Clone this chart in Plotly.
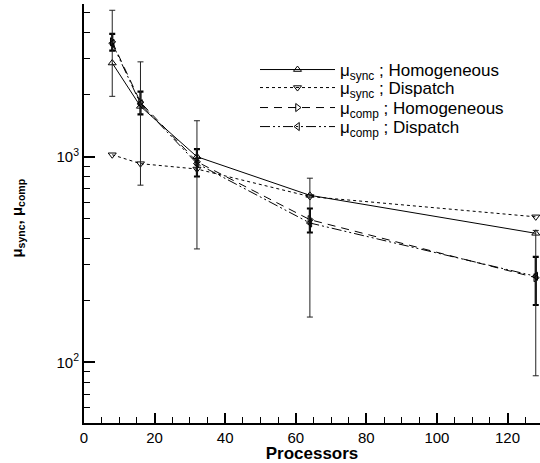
import plotly.graph_objects as go

processors = [8, 16, 32, 64, 128]
sync_homogeneous = [2855, 1757, 1000, 649, 424]
sync_dispatch = [1022, 925, 871, 640, 510]
comp_homogeneous = [3620, 1840, 945, 494, 258]
comp_homogeneous_err = [340, 233, 144, 66, 68]
comp_dispatch = [3560, 1810, 926, 476, 262]
comp_dispatch_err = [1594, 1083, 570, 310, 176]

x_ticks = [0, 20, 40, 60, 80, 100, 120]
y_ticks = [100, 1000]
y_ticktext = ["10<sup>2</sup>", "10<sup>3</sup>"]
y_minor = [60, 70, 80, 90, 200, 300, 400, 500, 600, 700, 800, 900,
           2000, 3000, 4000, 5000]

names = ["μ<sub>sync</sub> ; Homogeneous", "μ<sub>sync</sub> ; Dispatch",
         "μ<sub>comp</sub> ; Homogeneous", "μ<sub>comp</sub> ; Dispatch"]

fig = go.Figure()
fig.add_trace(go.Scatter(
    x=processors, y=sync_homogeneous, name=names[0], mode="lines+markers",
    line=dict(color="black", width=1, dash="solid"),
    marker=dict(symbol="triangle-up-open", size=7, color="black"),
    cliponaxis=False, legend="legend",
))
fig.add_trace(go.Scatter(
    x=processors, y=sync_dispatch, name=names[1], mode="lines+markers",
    line=dict(color="black", width=1, dash="dot"),
    marker=dict(symbol="triangle-down-open", size=7, color="black"),
    cliponaxis=False, legend="legend2",
))
fig.add_trace(go.Scatter(
    x=processors, y=comp_homogeneous, name=names[2], mode="lines+markers",
    line=dict(color="black", width=1, dash="8px,6px"),
    marker=dict(symbol="triangle-right-open", size=7, color="black"),
    error_y=dict(type="data", array=comp_homogeneous_err, visible=True,
                 color="black", thickness=2.2, width=3),
    cliponaxis=False, legend="legend3",
))
fig.add_trace(go.Scatter(
    x=processors, y=comp_dispatch, name=names[3], mode="lines+markers",
    line=dict(color="black", width=1, dash="10px,3px,2px,3px,2px,3px"),
    marker=dict(symbol="triangle-left-open", size=7, color="black"),
    error_y=dict(type="data", array=comp_dispatch_err, visible=True,
                 color="#222", thickness=1, width=3),
    cliponaxis=False, legend="legend4",
))

legend_rows = [0.8425, 0.7995, 0.7518, 0.7064]


def legend_style(yy):
    return dict(x=0.375, y=yy, xanchor="left", yanchor="middle",
                bgcolor="rgba(0,0,0,0)", font=dict(size=17),
                itemwidth=75, borderwidth=0)


fig.update_layout(
    width=540, height=463,
    margin=dict(l=84, r=0, t=4, b=40, autoexpand=False),
    paper_bgcolor="white", plot_bgcolor="white",
    font=dict(family="Liberation Sans, Arial, sans-serif", color="black", size=15),
    showlegend=True,
    legend=legend_style(legend_rows[0]),
    legend2=legend_style(legend_rows[1]),
    legend3=legend_style(legend_rows[2]),
    legend4=legend_style(legend_rows[3]),
    xaxis=dict(
        range=[0, 129.2], tickvals=x_ticks, ticks="inside", ticklen=10,
        tickwidth=2, tickcolor="black", showline=True, linewidth=2,
        linecolor="black", showgrid=False, zeroline=False, mirror=False,
        tickfont=dict(size=15), automargin=False,
        minor=dict(dtick=5, tick0=0, ticks="inside", ticklen=6, tickwidth=1,
                   tickcolor="black", showgrid=False),
        title=dict(text="<b>Processors</b>", font=dict(size=17), standoff=0),
    ),
    yaxis=dict(
        type="log", range=[1.7048, 3.7427], tickvals=y_ticks,
        ticktext=y_ticktext, ticks="inside", ticklen=11, tickwidth=2,
        tickcolor="black", showline=True, linewidth=2, linecolor="black",
        showgrid=False, zeroline=False, tickfont=dict(size=15),
        automargin=False,
        minor=dict(tickvals=y_minor, ticks="inside", ticklen=6, tickwidth=1,
                   tickcolor="black", showgrid=False),
    ),
    annotations=[dict(
        text="<b>μ<sub>sync</sub>, μ<sub>comp</sub></b>",
        xref="paper", yref="paper", x=-0.145, y=0.49,
        xanchor="center", yanchor="middle", textangle=-90,
        showarrow=False, font=dict(size=15),
    )],
)

fig.write_html("out.html", config={"displayModeBar": False},
               post_script="document.body.style.margin='0';")
